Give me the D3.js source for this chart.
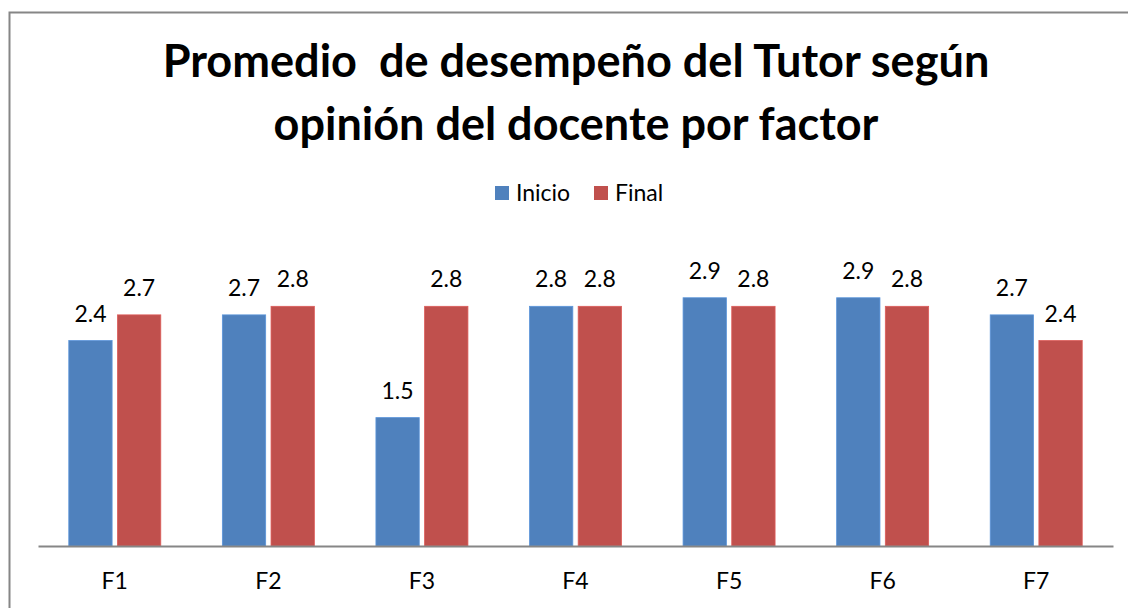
<!DOCTYPE html>
<html><head><meta charset="utf-8">
<script src="https://cdn.jsdelivr.net/npm/d3@7"></script>
<style>html,body{margin:0;padding:0;background:#fff;}svg{display:block;}</style>
</head><body>
<script>
const categories = ["F1","F2","F3","F4","F5","F6","F7"];
const seriesNames = ["Inicio","Final"];
const inicio = [2.4, 2.7, 1.5, 2.8, 2.9, 2.9, 2.7];
const final_ = [2.7, 2.8, 2.8, 2.8, 2.8, 2.8, 2.4];
const colors = ["#4F81BD", "#C0504D"];
const titleLines = ["Promedio  de desempeño del Tutor según", "opinión del docente por factor"];

const W = 1128, H = 608;
const svg = d3.select("body").append("svg").attr("width", W).attr("height", H);
const FONT = "Lato, 'Open Sans', sans-serif";

// chart border
svg.append("rect").attr("x", 9.5).attr("y", 12.5).attr("width", 1140).attr("height", 620)
  .attr("fill", "none").attr("stroke", "#868686").attr("stroke-width", 2);

const x0 = d3.scaleBand().domain(categories).range([38, 1113]);
const x1 = d3.scaleBand().domain(seriesNames).range([-46, 46]).paddingInner(0.11);
const y = d3.scaleLinear().domain([0, 3]).range([546, 546 - 256.8]);

const rows = categories.map((c, i) => ({cat: c, vals: [inicio[i], final_[i]]}));

const g = svg.append("g");
rows.forEach(r => {
  const cx = x0(r.cat) + x0.bandwidth() / 2;
  r.vals.forEach((v, j) => {
    const s = seriesNames[j];
    const bx = cx + x1(s);
    g.append("rect").attr("x", bx).attr("y", y(v)).attr("width", x1.bandwidth())
      .attr("height", y(0) - y(v)).attr("fill", colors[j])
      .attr("stroke", d3.color(colors[j]).brighter(0.4)).attr("stroke-width", 0.8);
    g.append("text").attr("x", bx + x1.bandwidth() / 2).attr("y", y(v) - 19)
      .attr("text-anchor", "middle").attr("font-family", FONT).attr("font-size", 23)
      .attr("fill", "#000").text(v.toFixed(1));
  });
});

// x axis
const xAxis = svg.append("g").attr("transform", "translate(0,546)")
  .call(d3.axisBottom(x0).tickSize(0).tickPadding(27));
xAxis.select(".domain").attr("stroke", "#868686").attr("stroke-width", 2);
xAxis.selectAll("text").attr("font-family", FONT).attr("font-size", 23).attr("fill", "#000");

// title
const tys = [77, 140];
titleLines.forEach((t, i) => {
  const el = svg.append("text").attr("x", 576).attr("y", tys[i]).attr("text-anchor", "middle")
    .attr("font-family", FONT).attr("font-weight", "bold").attr("font-size", 44)
    .attr("fill", "#000").style("white-space", "pre").text(t);
  const target = i === 0 ? 827 : 605;
  const len = el.node().getComputedTextLength();
  el.attr("font-size", 44 * target / len);
});

// legend
const leg = svg.append("g");
const legX = [495, 594];
seriesNames.forEach((s, j) => {
  leg.append("rect").attr("x", legX[j]).attr("y", 186).attr("width", 14).attr("height", 14).attr("fill", colors[j]);
  leg.append("text").attr("x", legX[j] + 21).attr("y", 201).attr("font-family", FONT)
    .attr("font-size", 23).attr("fill", "#000").text(s);
});
</script>
</body></html>
